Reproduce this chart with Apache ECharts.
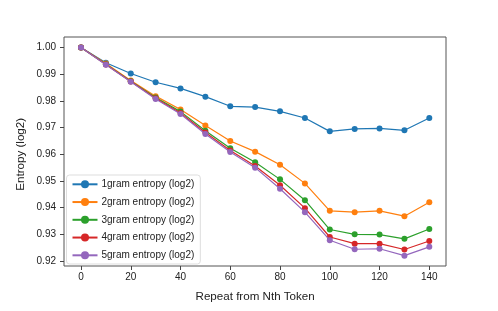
<!DOCTYPE html>
<html>
<head>
<meta charset="utf-8">
<script src="https://cdn.jsdelivr.net/npm/echarts@6/dist/echarts.min.js"></script>
<style>html,body{margin:0;padding:0;background:#fff}#c{width:498px;height:311px}</style>
</head>
<body>
<div id="c"></div>
<script>
const positions = [0,10,20,30,40,50,60,70,80,90,100,110,120,130,140];
const gram1 = [1.000,0.9943,0.9903,0.9870,0.9847,0.9816,0.9780,0.9777,0.9761,0.9736,0.9686,0.9695,0.9697,0.9690,0.9736];
const gram2 = [1.000,0.9940,0.9877,0.9818,0.9768,0.9708,0.9650,0.9610,0.9561,0.9491,0.9388,0.9383,0.9388,0.9368,0.9420];
const gram3 = [1.000,0.9938,0.9874,0.9813,0.9760,0.9688,0.9623,0.9570,0.9506,0.9428,0.9318,0.9300,0.9299,0.9283,0.9320];
const gram4 = [1.000,0.9937,0.9873,0.9810,0.9755,0.9682,0.9614,0.9556,0.9484,0.9398,0.9290,0.9265,0.9265,0.9243,0.9275];
const gram5 = [1.000,0.9936,0.9872,0.9807,0.9751,0.9676,0.9609,0.9550,0.9471,0.9383,0.9278,0.9244,0.9246,0.9220,0.9253];
const seriesNames = ['1gram entropy (log2)','2gram entropy (log2)','3gram entropy (log2)','4gram entropy (log2)','5gram entropy (log2)'];
const xTickMin = 0, xTickMax = 140, xTickStep = 20;
const yTickMin = 0.92, yTickMax = 1.00, yTickStep = 0.01;

const colors = ['#1f77b4','#ff7f0e','#2ca02c','#d62728','#9467bd'];
const all = [gram1,gram2,gram3,gram4,gram5];
const FONT = 'Liberation Sans';

const chart = echarts.init(document.getElementById('c'), null, {renderer:'canvas'});
chart.setOption({
  animation:false,
  textStyle:{fontFamily:FONT},
  grid:{left:81,right:68.7,top:47.6,bottom:50,show:false},
  graphic:[{type:'rect',shape:{x:64,y:37,width:382,height:229},style:{fill:'none',stroke:'#555',lineWidth:1},z:-1,silent:true}],
  legend:{
    orient:'vertical', left:66.5, top:175,
    data:seriesNames,
    itemWidth:25, itemHeight:10, itemGap:7.75, symbolRotate:0,
    textStyle:{fontFamily:FONT,fontSize:10,color:'#222',padding:[0,0,0,-1]},
    backgroundColor:'rgba(255,255,255,0.85)', borderColor:'#ddd', borderWidth:1, borderRadius:3,
    padding:[4.3,6,3.7,5]
  },
  xAxis:{
    type:'value', min:xTickMin, max:xTickMax, interval:xTickStep, offset:5,
    name:'Repeat from Nth Token', nameLocation:'middle', nameGap:25, nameMoveOverlap:false,
    nameTextStyle:{fontFamily:FONT,fontSize:11.6,color:'#222'},
    axisLine:{show:false,onZero:false},
    axisTick:{show:true,inside:false,length:4,lineStyle:{color:'#444'}},
    axisLabel:{fontFamily:FONT,fontSize:10,color:'#222',margin:6},
    splitLine:{show:false}
  },
  yAxis:{
    type:'value', min:yTickMin, max:yTickMax, interval:yTickStep, offset:17,
    name:'Entropy (log2)', nameLocation:'middle', nameGap:37, nameMoveOverlap:false,
    nameTextStyle:{fontFamily:FONT,fontSize:11.6,color:'#222'},
    axisLine:{show:false,onZero:false},
    axisTick:{show:true,inside:false,length:4,lineStyle:{color:'#444'}},
    axisLabel:{fontFamily:FONT,fontSize:10,color:'#222',margin:8,formatter:v=>v.toFixed(2)},
    splitLine:{show:false}
  },
  series: all.map((arr,i)=>({
    name:seriesNames[i], type:'line',
    data: positions.map((x,j)=>[x,arr[j]]),
    symbol:'circle', symbolSize:6,
    itemStyle:{color:colors[i]},
    lineStyle:{color:colors[i],width:1.2},
    z:2+i
  }))
});
</script>
</body>
</html>
